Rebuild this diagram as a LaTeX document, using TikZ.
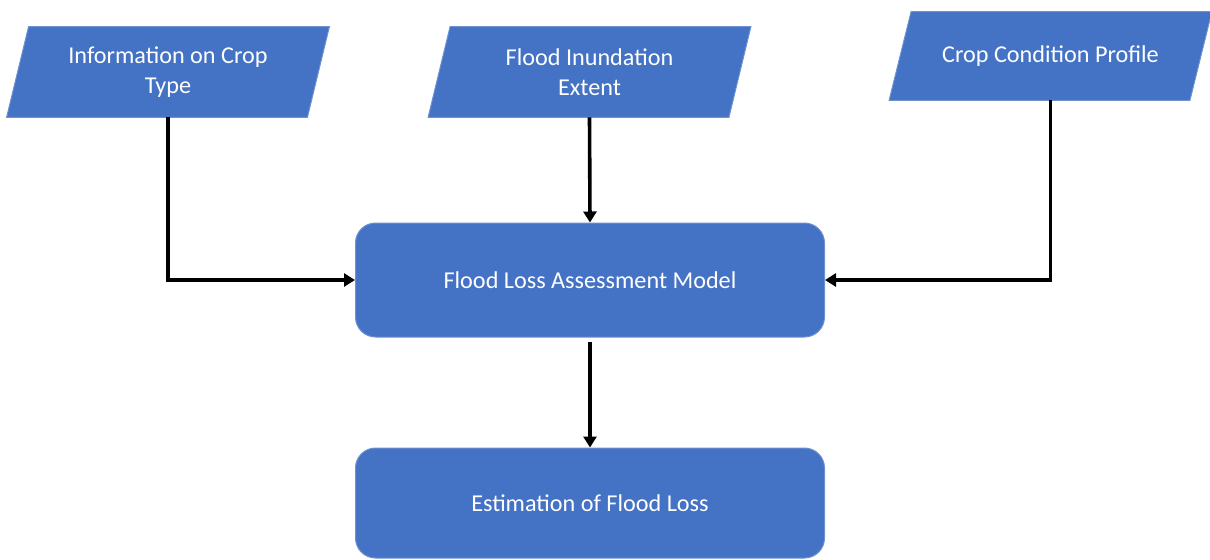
\documentclass[tikz,border=0pt]{standalone}
\usepackage{fontspec}
\setmainfont{Carlito}
\usetikzlibrary{arrows.meta,calc}
\pgfdeclarelayer{bg}\pgfsetlayers{bg,main}
\definecolor{boxblue}{HTML}{4472C4}
\definecolor{boxedge}{HTML}{6E91D2}
\begin{document}
\begin{tikzpicture}[x=0.5pt,y=-0.5pt,
  lbl/.style={text=white, font=\fontsize{12.1}{15}\selectfont, align=center, inner sep=0pt},
  rbox/.style={lbl, fill=boxblue, draw=boxedge, line width=0.5pt, rounded corners=10pt, minimum width=234.5pt},
  para/.style={lbl, minimum width=150pt},
  pshape/.style={fill=boxblue, draw=boxedge, line width=0.5pt},
  conn/.style={line width=1.8pt, -{Triangle[width=6.5pt,length=5.5pt]}}]
\useasboundingbox (0,0) rectangle (1210,559);
% input parallelograms
\node[para, minimum height=45pt] (p1) at (168,72) {Information on Crop\\Type};
\node[para, minimum height=45pt] (p2) at (589.5,72) {Flood Inundation\\Extent};
\node[para, minimum height=44pt] (p3) at (1050.5,56) {Crop Condition Profile};
\begin{pgfonlayer}{bg}
\foreach \n in {p1,p2,p3}{
  \draw[pshape] ($(\n.north west)+(11,0)$) -- ($(\n.north east)+(11,0)$)
     -- ($(\n.south east)-(11,0)$) -- ($(\n.south west)-(11,0)$) -- cycle;
}
\end{pgfonlayer}
% process boxes
\node[rbox, minimum height=57pt] (m) at (590,280) {Flood Loss Assessment Model};
\node[rbox, minimum height=55pt] (e) at (590,503) {Estimation of Flood Loss};
% connectors
\draw[conn] (p1.south) |- (m.west);
\draw[conn] (p2.south) -- (m.north);
\draw[conn] (p3.south) |- (m.east);
\draw[conn, shorten <=2pt] (m.south) -- (e.north);
\end{tikzpicture}
\end{document}
